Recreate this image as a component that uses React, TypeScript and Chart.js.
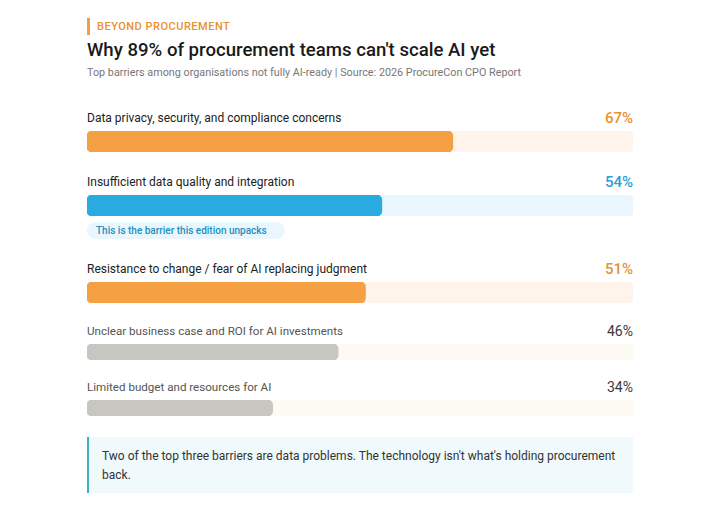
import { useEffect, useRef } from "react";
import { Chart, registerables } from "chart.js";

Chart.register(...registerables);

// ---- data ----
const eyebrow = "BEYOND PROCUREMENT";
const title = "Why 89% of procurement teams can't scale AI yet";
const subtitle =
  "Top barriers among organisations not fully AI-ready | Source: 2026 ProcureCon CPO Report";
const categories = [
  "Data privacy, security, and compliance concerns",
  "Insufficient data quality and integration",
  "Resistance to change / fear of AI replacing judgment",
  "Unclear business case and ROI for AI investments",
  "Limited budget and resources for AI",
];
const values = [67, 54, 51, 46, 34];
const tones = ["accent", "focus", "accent", "muted", "muted"];
const notes = [null, "This is the barrier this edition unpacks", null, null, null];
const takeaway =
  "Two of the top three barriers are data problems. The technology isn't what's holding procurement back.";
const axisMax = 100;

// ---- style ----
const FONT = "Roboto, 'Open Sans', 'Noto Sans', sans-serif";
const palette: Record<string, any> = {
  accent: { fill: "#F5A043", track: "#FEF4EC", value: "#E8912E", label: "#222222", labelSize: 12, valueSize: 15, valueWeight: 500, barH: 21 },
  focus: { fill: "#29ABE2", track: "#EAF6FD", value: "#2A9ED6", label: "#222222", labelSize: 12, valueSize: 15, valueWeight: 500, barH: 21 },
  muted: { fill: "#C8C6C0", track: "#FDF9F3", value: "#3A3A3A", label: "#555555", labelSize: 11.6, valueSize: 14, valueWeight: 400, barH: 16 },
};

function BarCanvas({ label, value, tone }: { label: string; value: number; tone: string }) {
  const ref = useRef<HTMLCanvasElement | null>(null);
  const p = palette[tone];
  useEffect(() => {
    if (!ref.current) return;
    const common = {
      borderRadius: 5,
      borderSkipped: false,
      borderWidth: 0,
      barPercentage: 1,
      categoryPercentage: 1,
      grouped: false,
    };
    const chart = new Chart(ref.current, {
      type: "bar",
      data: {
        labels: [label],
        datasets: [
          { ...common, data: [value], backgroundColor: p.fill } as any,
          { ...common, data: [axisMax], backgroundColor: p.track } as any,
        ],
      },
      options: {
        indexAxis: "y",
        animation: false,
        responsive: true,
        maintainAspectRatio: false,
        events: [],
        layout: { padding: 0 },
        plugins: { legend: { display: false }, tooltip: { enabled: false } },
        scales: {
          x: { display: false, min: 0, max: axisMax },
          y: { display: false },
        },
      },
    });
    return () => chart.destroy();
  }, [label, value, tone]);
  return (
    <div style={{ position: "relative", height: p.barH, width: "100%" }}>
      <canvas ref={ref} />
    </div>
  );
}

function Row({ i }: { i: number }) {
  const tone = tones[i];
  const p = palette[tone];
  const note = notes[i];
  const last = i === categories.length - 1;
  const nextMuted = !last && tones[i + 1] === "muted";
  const gap = last ? 21 : tone === "muted" ? 17 : nextMuted ? 18 : 20;
  return (
    <div style={{ marginBottom: gap }}>
      <div
        style={{
          display: "flex",
          justifyContent: "space-between",
          alignItems: "center",
          height: 20,
          marginBottom: 3,
        }}
      >
        <span style={{ fontSize: p.labelSize, color: p.label }}>{categories[i]}</span>
        <span style={{ fontSize: p.valueSize, color: p.value, fontWeight: p.valueWeight }}>
          {values[i]}%
        </span>
      </div>
      <BarCanvas label={categories[i]} value={values[i]} tone={tone} />
      {note && (
        <div
          style={{
            marginTop: 6,
            display: "inline-block",
            height: 17,
            lineHeight: "17px",
            padding: "0 18px 0 9px",
            borderRadius: 8.5,
            background: "#EAF6FD",
            color: "#1E8FBF",
            fontSize: 10,
            fontWeight: 500,
          }}
        >
          {note}
        </div>
      )}
    </div>
  );
}

export default function App() {
  return (
    <div style={{ fontFamily: FONT, width: 546, margin: "0 auto", paddingTop: 10 }}>
      <div
        style={{
          borderLeft: "3px solid #F0A040",
          height: 17,
          lineHeight: "17px",
          paddingLeft: 7,
          fontSize: 11,
          letterSpacing: 0.5,
          color: "#E8912E",
          fontWeight: 500,
        }}
      >
        {eyebrow}
      </div>
      <div
        style={{
          marginTop: 3,
          height: 24,
          lineHeight: "24px",
          fontSize: 18.6,
          fontWeight: 500,
          color: "#1a1a1a",
        }}
      >
        {title}
      </div>
      <div style={{ marginTop: 3, height: 16, lineHeight: "16px", fontSize: 10.8, color: "#777" }}>
        {subtitle}
      </div>
      <div style={{ marginTop: 27 }}>
        {categories.map((_, i) => (
          <Row key={i} i={i} />
        ))}
      </div>
      <div
        style={{
          borderLeft: "2px solid #3BB3C3",
          background: "#F0F9FC",
          padding: "10px 10px 8px 13px",
          fontSize: 12,
          lineHeight: "19px",
          color: "#333",
        }}
      >
        {takeaway}
      </div>
    </div>
  );
}
